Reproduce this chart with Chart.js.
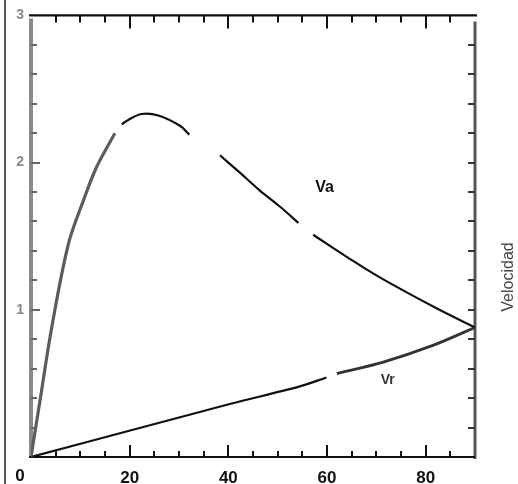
<!DOCTYPE html>
<html>
<head>
<meta charset="utf-8">
<script src="https://cdn.jsdelivr.net/npm/chart.js@4"></script>
<style>
  html, body { margin: 0; padding: 0; background: #fff; }
  canvas { display: block; }
</style>
</head>
<body>
<canvas id="chart" width="518" height="484"></canvas>
<script>
// Datos (null = tramo sin tinta)
const vaX = [0, 2, 4.2, 7.6, 10.6, 13.3, 17, 17.7, 18.4, 19.7, 22.4, 25.8, 30.2, 32.1, 35, 38.3, 42.4, 46.4, 50.5, 54.2, 55.7, 57.2, 64, 70.7, 82.2, 90];
const vaY = [0, 0.42, 0.88, 1.45, 1.74, 1.97, 2.2, null, 2.26, 2.29, 2.33, 2.32, 2.25, 2.19, null, 2.05, 1.93, 1.81, 1.7, 1.59, null, 1.51, 1.36, 1.22, 1.01, 0.88];

const vrX = [0, 20.1, 40.3, 54.5, 59.9, 61, 62, 71.4, 81.6, 90];
const vrY = [0, 0.18, 0.36, 0.48, 0.54, null, 0.567, 0.645, 0.76, 0.88];

const xTickLabels = [20, 40, 60, 80];
const yTickLabels = [1, 2, 3];

const seriesNames = ["Va", "Vr"];
const axisTitle = "Velocidad";

// Ejes
const xMin = 0, xMax = 90, xMinor = 5, xMajor = 20;
const yMin = 0, yMax = 3, yMinor = 0.2;

function toPoints(xs, ys) {
  return xs.map((x, i) => ({ x: x, y: ys[i] }));
}

// Marco con marcas hacia dentro
const framePlugin = {
  id: "frame",
  beforeDatasetsDraw(chart) {
    const { ctx, chartArea: a, scales } = chart;
    const sx = scales.x, sy = scales.y;
    ctx.save();

    // borde del escaneo
    ctx.strokeStyle = "#222";
    ctx.lineWidth = 1.5;
    ctx.beginPath(); ctx.moveTo(5, 0); ctx.lineTo(5, 484); ctx.stroke();

    // eje izquierdo gris y grueso
    ctx.strokeStyle = "#8a8a8a";
    ctx.lineWidth = 4;
    ctx.beginPath(); ctx.moveTo(a.left, a.top + 3); ctx.lineTo(a.left, a.bottom); ctx.stroke();
    // eje derecho
    ctx.strokeStyle = "#555";
    ctx.lineWidth = 3;
    ctx.beginPath(); ctx.moveTo(a.right, a.top + 6); ctx.lineTo(a.right, a.bottom + 2); ctx.stroke();
    // superior e inferior
    ctx.strokeStyle = "#111";
    ctx.lineWidth = 2.2;
    ctx.beginPath(); ctx.moveTo(a.left - 2, a.top); ctx.lineTo(a.right + 2, a.top); ctx.stroke();
    ctx.beginPath(); ctx.moveTo(a.left - 2, a.bottom); ctx.lineTo(a.right, a.bottom); ctx.stroke();

    // marcas x (arriba y abajo)
    ctx.lineWidth = 2;
    ctx.strokeStyle = "#111";
    for (let v = xMin + xMinor; v < xMax; v += xMinor) {
      const px = Math.round(sx.getPixelForValue(v));
      const len = v % xMajor === 0 ? 13 : 7;
      ctx.beginPath(); ctx.moveTo(px, a.top); ctx.lineTo(px, a.top + len); ctx.stroke();
      ctx.beginPath(); ctx.moveTo(px, a.bottom); ctx.lineTo(px, a.bottom - len + 1); ctx.stroke();
    }
    // marcas y (izquierda y derecha)
    for (let i = 1; i * yMinor < yMax - 0.01; i++) {
      const v = i * yMinor;
      const py = Math.round(sy.getPixelForValue(v));
      const major = i % 5 === 0;
      ctx.strokeStyle = "#666";
      ctx.beginPath(); ctx.moveTo(a.left, py); ctx.lineTo(a.left + (major ? 9 : 6), py); ctx.stroke();
      ctx.strokeStyle = "#333";
      ctx.beginPath(); ctx.moveTo(a.right, py); ctx.lineTo(a.right - 7, py); ctx.stroke();
    }
    ctx.restore();
  },
  afterDraw(chart) {
    const { ctx, scales } = chart;
    const sx = scales.x, sy = scales.y;
    ctx.save();
    ctx.textAlign = "center";
    ctx.textBaseline = "middle";

    // "0" del origen
    ctx.fillStyle = "#111";
    ctx.font = "bold 17px Arial, 'Liberation Sans', sans-serif";
    ctx.fillText("0", 20, 476);

    // nombres de las curvas
    ctx.font = "bold 16px Arial, 'Liberation Sans', sans-serif";
    ctx.fillText(seriesNames[0], sx.getPixelForValue(59.5), sy.getPixelForValue(1.83));
    ctx.fillStyle = "#333";
    ctx.font = "bold 14px Arial, 'Liberation Sans', sans-serif";
    ctx.fillText(seriesNames[1], sx.getPixelForValue(72.3), sy.getPixelForValue(0.52));

    // título del eje
    ctx.fillStyle = "#444";
    ctx.font = "16px Arial, 'Liberation Sans', sans-serif";
    ctx.translate(509, 277);
    ctx.rotate(-Math.PI / 2);
    ctx.fillText(axisTitle, 0, 0);
    ctx.restore();
  }
};

new Chart(document.getElementById("chart"), {
  type: "line",
  data: {
    datasets: [
      {
        label: seriesNames[0],
        data: toPoints(vaX, vaY),
        borderColor: "#111",
        borderWidth: 2.2,
        pointRadius: 0,
        tension: 0.35,
        spanGaps: false,
        segment: {
          borderColor: c => c.p0.parsed.x < 17 ? "#5c5c5c" : "#111",
          borderWidth: c => c.p0.parsed.x < 17 ? 3.2 : 2.2
        }
      },
      {
        label: seriesNames[1],
        data: toPoints(vrX, vrY),
        borderColor: "#111",
        borderWidth: 2.2,
        pointRadius: 0,
        tension: 0.3,
        spanGaps: false,
        segment: {
          borderColor: c => c.p0.parsed.x > 61 ? "#333" : "#111",
          borderWidth: c => c.p0.parsed.x > 61 ? 2.8 : 2.2
        }
      }
    ]
  },
  options: {
    responsive: false,
    animation: false,
    layout: { padding: { left: 0, right: 43, top: 14, bottom: 0 } },
    plugins: { legend: { display: false }, tooltip: { enabled: false } },
    scales: {
      x: {
        type: "linear",
        min: xMin,
        max: xMax,
        grid: { display: false, drawTicks: false, tickLength: 0 },
        border: { display: false },
        afterBuildTicks: s => { s.ticks = xTickLabels.map(v => ({ value: v })); },
        afterFit: s => { s.height = 27; },
        ticks: {
          autoSkip: false,
          maxRotation: 0,
          padding: 11,
          color: "#111",
          font: { family: "Arial, 'Liberation Sans', sans-serif", size: 17, weight: "bold" }
        }
      },
      y: {
        type: "linear",
        min: yMin,
        max: yMax,
        grid: { display: false, drawTicks: false, tickLength: 0 },
        border: { display: false },
        afterBuildTicks: s => { s.ticks = yTickLabels.map(v => ({ value: v })); },
        afterFit: s => { s.width = 31; },
        ticks: {
          padding: 7,
          color: "#888",
          font: { family: "Arial, 'Liberation Sans', sans-serif", size: 14, weight: "bold" }
        }
      }
    }
  },
  plugins: [framePlugin]
});
</script>
</body>
</html>
